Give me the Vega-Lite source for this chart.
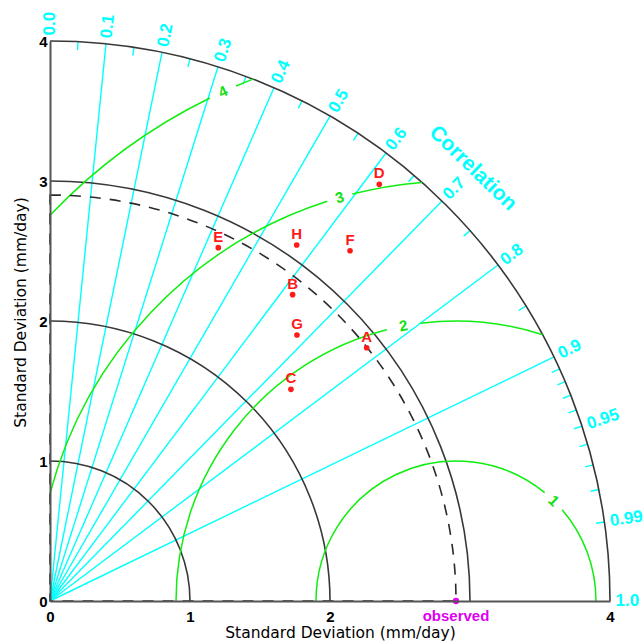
{
  "$schema": "https://vega.github.io/schema/vega-lite/v6.json",
  "width": 560,
  "height": 560,
  "autosize": {"type": "none"},
  "padding": {"left": 50, "top": 41, "right": 34, "bottom": 43},
  "background": "white",
  "config": {"view": {"stroke": null}, "font": "Liberation Sans"},
  "resolve": {"scale": {"angle": "independent"}},
  "datasets": {
    "radials": [
      {"corr": 0.1, "x": 0, "y": 0, "x2": 0.4, "y2": 3.98},
      {"corr": 0.2, "x": 0, "y": 0, "x2": 0.8, "y2": 3.9192},
      {"corr": 0.3, "x": 0, "y": 0, "x2": 1.2, "y2": 3.8158},
      {"corr": 0.4, "x": 0, "y": 0, "x2": 1.6, "y2": 3.6661},
      {"corr": 0.5, "x": 0, "y": 0, "x2": 2.0, "y2": 3.4641},
      {"corr": 0.6, "x": 0, "y": 0, "x2": 2.4, "y2": 3.2},
      {"corr": 0.7, "x": 0, "y": 0, "x2": 2.8, "y2": 2.8566},
      {"corr": 0.8, "x": 0, "y": 0, "x2": 3.2, "y2": 2.4},
      {"corr": 0.9, "x": 0, "y": 0, "x2": 3.6, "y2": 1.7436}
    ],
    "ticks": [
      {"corr": 0.05, "x": 0.197, "y": 3.9351, "x2": 0.2, "y2": 3.995},
      {"corr": 0.15, "x": 0.591, "y": 3.8954, "x2": 0.6, "y2": 3.9548},
      {"corr": 0.25, "x": 0.985, "y": 3.8149, "x2": 1.0, "y2": 3.873},
      {"corr": 0.35, "x": 1.379, "y": 3.6908, "x2": 1.4, "y2": 3.747},
      {"corr": 0.45, "x": 1.773, "y": 3.5185, "x2": 1.8, "y2": 3.5721},
      {"corr": 0.55, "x": 2.167, "y": 3.2905, "x2": 2.2, "y2": 3.3407},
      {"corr": 0.65, "x": 2.561, "y": 2.9941, "x2": 2.6, "y2": 3.0397},
      {"corr": 0.75, "x": 2.955, "y": 2.6061, "x2": 3.0, "y2": 2.6458},
      {"corr": 0.85, "x": 3.349, "y": 2.0755, "x2": 3.4, "y2": 2.1071},
      {"corr": 0.91, "x": 3.5854, "y": 1.6336, "x2": 3.64, "y2": 1.6584},
      {"corr": 0.92, "x": 3.6248, "y": 1.5442, "x2": 3.68, "y2": 1.5677},
      {"corr": 0.93, "x": 3.6642, "y": 1.4482, "x2": 3.72, "y2": 1.4702},
      {"corr": 0.94, "x": 3.7036, "y": 1.3442, "x2": 3.76, "y2": 1.3647},
      {"corr": 0.95, "x": 3.743, "y": 1.2303, "x2": 3.8, "y2": 1.249},
      {"corr": 0.96, "x": 3.7824, "y": 1.1032, "x2": 3.84, "y2": 1.12},
      {"corr": 0.97, "x": 3.8218, "y": 0.9578, "x2": 3.88, "y2": 0.9724},
      {"corr": 0.98, "x": 3.8612, "y": 0.7841, "x2": 3.92, "y2": 0.796},
      {"corr": 0.99, "x": 3.9006, "y": 0.5558, "x2": 3.96, "y2": 0.5643}
    ],
    "corrLabels": [
      {"label": "0.0", "corr": 0.0, "x": 0.0, "y": 4.04},
      {"label": "0.1", "corr": 0.1, "x": 0.404, "y": 4.0198},
      {"label": "0.2", "corr": 0.2, "x": 0.808, "y": 3.9584},
      {"label": "0.3", "corr": 0.3, "x": 1.212, "y": 3.8539},
      {"label": "0.4", "corr": 0.4, "x": 1.616, "y": 3.7027},
      {"label": "0.5", "corr": 0.5, "x": 2.02, "y": 3.4987},
      {"label": "0.6", "corr": 0.6, "x": 2.424, "y": 3.232},
      {"label": "0.7", "corr": 0.7, "x": 2.828, "y": 2.8851},
      {"label": "0.8", "corr": 0.8, "x": 3.232, "y": 2.424},
      {"label": "0.9", "corr": 0.9, "x": 3.636, "y": 1.761},
      {"label": "0.95", "corr": 0.95, "x": 3.838, "y": 1.2615},
      {"label": "0.99", "corr": 0.99, "x": 4.0, "y": 0.5699},
      {"label": "1.0", "corr": 1.0, "x": 4.04, "y": 0.0}
    ],
    "sdArcs": [
      {"x": 0, "y": 0, "r": 1, "t1": 0, "t2": 90},
      {"x": 0, "y": 0, "r": 2, "t1": 0, "t2": 90},
      {"x": 0, "y": 0, "r": 3, "t1": 0, "t2": 90},
      {"x": 0, "y": 0, "r": 4, "t1": 0, "t2": 90}
    ],
    "obsArc": [
      {"x": 0, "y": 0, "r": 2.9, "t1": 0, "t2": 90}
    ],
    "rmsArcs": [
      {"x": 2.9, "y": 0, "r": 1, "t1": -90, "t2": 39.3},
      {"x": 2.9, "y": 0, "r": 1, "t1": 49.3, "t2": 90},
      {"x": 2.9, "y": 0, "r": 2, "t1": -90, "t2": -14.3},
      {"x": 2.9, "y": 0, "r": 2, "t1": -7.3, "t2": 18.03},
      {"x": 2.9, "y": 0, "r": 3, "t1": -75.17, "t2": -17.85},
      {"x": 2.9, "y": 0, "r": 3, "t1": -14.3, "t2": -4.65},
      {"x": 2.9, "y": 0, "r": 4, "t1": -46.47, "t2": -26.07},
      {"x": 2.9, "y": 0, "r": 4, "t1": -23.13, "t2": -21.25}
    ],
    "rmsLabels": [
      {"label": "1", "x": 3.598, "y": 0.716, "tilt": 44},
      {"label": "2", "x": 2.525, "y": 1.965, "tilt": -11},
      {"label": "3", "x": 2.068, "y": 2.882, "tilt": -16},
      {"label": "4", "x": 1.235, "y": 3.637, "tilt": -25}
    ],
    "models": [
      {"name": "A", "x": 2.262, "y": 1.809},
      {"name": "B", "x": 1.733, "y": 2.188},
      {"name": "C", "x": 1.721, "y": 1.512},
      {"name": "D", "x": 2.352, "y": 2.976},
      {"name": "E", "x": 1.202, "y": 2.524},
      {"name": "F", "x": 2.143, "y": 2.502},
      {"name": "G", "x": 1.764, "y": 1.9},
      {"name": "H", "x": 1.762, "y": 2.543}
    ],
    "observed": [
      {"name": "observed", "x": 2.9, "y": 0}
    ],
    "corrTitle": [
      {"label": "Correlation", "x": 3.02, "y": 3.09}
    ]
  },
  "encoding": {
    "x": {
      "field": "x",
      "type": "quantitative",
      "scale": {"domain": [0, 4], "nice": false, "zero": true},
      "axis": {
        "values": [0, 1, 2, 4],
        "format": "d",
        "ticks": false,
        "grid": false,
        "domainColor": "#555555",
        "domainWidth": 2,
        "labelFont": "Liberation Sans",
        "labelFontWeight": "bold",
        "labelFontSize": 15,
        "labelColor": "#000000",
        "labelPadding": 8,
        "labelFlush": false,
        "labelOverlap": false,
        "title": "Standard Deviation (mm/day)",
        "titleFont": "DejaVu Sans",
        "titleFontSize": 15.5,
        "titleFontWeight": "normal",
        "titleColor": "#000000",
        "titlePadding": 1,
        "titleX": 290,
        "zindex": 1
      }
    },
    "y": {
      "field": "y",
      "type": "quantitative",
      "scale": {"domain": [0, 4], "nice": false, "zero": true},
      "axis": {
        "values": [0, 1, 2, 3, 4],
        "format": "d",
        "ticks": false,
        "grid": false,
        "domainColor": "#555555",
        "domainWidth": 2,
        "labelFont": "Liberation Sans",
        "labelFontWeight": "bold",
        "labelFontSize": 15,
        "labelColor": "#000000",
        "labelPadding": 3,
        "labelFlush": false,
        "labelOverlap": false,
        "title": "Standard Deviation (mm/day)",
        "titleFont": "DejaVu Sans",
        "titleFontSize": 15.5,
        "titleFontWeight": "normal",
        "titleColor": "#000000",
        "titlePadding": 10,
        "titleY": 271,
        "zindex": 1
      }
    }
  },
  "layer": [
    {
      "data": {"name": "radials"},
      "mark": {"type": "rule", "color": "#00ffff", "strokeWidth": 1.4},
      "encoding": {"x2": {"field": "x2"}, "y2": {"field": "y2"}}
    },
    {
      "data": {"name": "ticks"},
      "mark": {"type": "rule", "color": "#00ffff", "strokeWidth": 1.4},
      "encoding": {"x2": {"field": "x2"}, "y2": {"field": "y2"}}
    },
    {
      "data": {"name": "sdArcs"},
      "mark": {"type": "arc", "filled": false, "stroke": "#383838", "strokeWidth": 1.6},
      "encoding": {
        "radius": {"field": "r", "type": "quantitative", "scale": {"type": "linear", "domain": [0, 4], "range": [0, 560], "zero": true, "nice": false}},
        "radius2": {"field": "r"},
        "theta": {"field": "t1", "type": "quantitative", "stack": null, "scale": {"type": "linear", "domain": [0, 360], "range": [0, 6.283185307179586], "zero": false, "nice": false}},
        "theta2": {"field": "t2"}
      }
    },
    {
      "data": {"name": "rmsArcs"},
      "mark": {"type": "arc", "filled": false, "stroke": "#10ee10", "strokeWidth": 1.5},
      "encoding": {
        "radius": {"field": "r", "type": "quantitative", "scale": {"type": "linear", "domain": [0, 4], "range": [0, 560], "zero": true, "nice": false}},
        "radius2": {"field": "r"},
        "theta": {"field": "t1", "type": "quantitative", "stack": null, "scale": {"type": "linear", "domain": [0, 360], "range": [0, 6.283185307179586], "zero": false, "nice": false}},
        "theta2": {"field": "t2"}
      }
    },
    {
      "data": {"name": "obsArc"},
      "mark": {"type": "arc", "filled": false, "stroke": "#2a2a2a", "strokeWidth": 1.6, "strokeDash": [11, 9]},
      "encoding": {
        "radius": {"field": "r", "type": "quantitative", "scale": {"type": "linear", "domain": [0, 4], "range": [0, 560], "zero": true, "nice": false}},
        "theta": {"field": "t1", "type": "quantitative", "stack": null, "scale": {"type": "linear", "domain": [0, 360], "range": [0, 6.283185307179586], "zero": false, "nice": false}},
        "theta2": {"field": "t2"}
      }
    },
    {
      "data": {"name": "corrLabels"},
      "mark": {"type": "text", "color": "#00ffff", "font": "Liberation Sans", "fontSize": 17, "fontWeight": "bold", "align": "left", "baseline": "middle"},
      "encoding": {
        "text": {"field": "label"},
        "angle": {"field": "corr", "type": "quantitative", "scale": {"type": "linear", "domain": [0, 0.1, 0.2, 0.3, 0.4, 0.5, 0.6, 0.7, 0.8, 0.9, 0.95, 0.99, 1.0], "range": [270, 275.74, 281.54, 287.46, 293.58, 300, 306.87, 314.43, 323.13, 334.16, 341.81, 351.89, 360], "zero": false, "nice": false}}
      }
    },
    {
      "data": {"name": "corrTitle"},
      "mark": {"type": "text", "color": "#00ffff", "font": "Liberation Sans", "fontSize": 21, "fontWeight": "bold", "align": "center", "baseline": "middle", "angle": 44},
      "encoding": {"text": {"field": "label"}}
    },
    {
      "data": {"name": "rmsLabels"},
      "mark": {"type": "text", "color": "#10e010", "font": "Liberation Sans", "fontSize": 15, "fontWeight": "bold", "align": "center", "baseline": "middle"},
      "encoding": {
        "text": {"field": "label"},
        "angle": {"field": "tilt", "type": "quantitative", "scale": {"type": "linear", "domain": [-90, 90], "range": [270, 450], "zero": false, "nice": false}}
      }
    },
    {
      "data": {"name": "models"},
      "mark": {"type": "circle", "color": "#ff1a1a", "size": 32, "opacity": 1},
      "encoding": {}
    },
    {
      "data": {"name": "models"},
      "mark": {"type": "text", "color": "#ff1a1a", "font": "Liberation Sans", "fontSize": 15, "fontWeight": "bold", "align": "center", "baseline": "middle", "dy": -11},
      "encoding": {"text": {"field": "name"}}
    },
    {
      "data": {"name": "observed"},
      "mark": {"type": "circle", "color": "#e000f0", "size": 40, "opacity": 1},
      "encoding": {}
    },
    {
      "data": {"name": "observed"},
      "mark": {"type": "text", "color": "#e000f0", "font": "Liberation Sans", "fontSize": 15, "fontWeight": "bold", "align": "center", "baseline": "middle", "dy": 15},
      "encoding": {"text": {"field": "name"}}
    }
  ]
}
